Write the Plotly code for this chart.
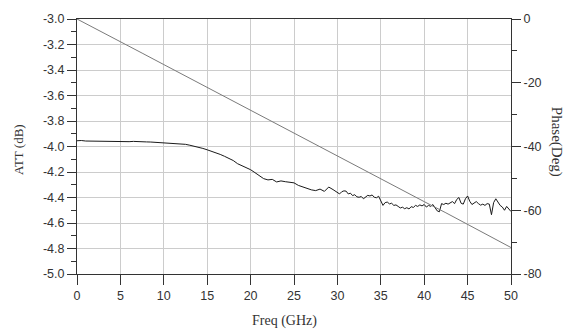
import plotly.graph_objects as go

# ---- data ----
att_freq_a = [0, 0.5, 1, 1.5, 2, 2.5, 3, 3.5, 4, 4.5, 5, 5.5, 6, 6.5, 7, 7.5, 8, 8.5, 9, 9.5,
              10, 10.5, 11, 11.5, 12, 12.5, 13, 13.5, 14, 14.5, 15, 15.5, 16, 16.5, 17, 17.5,
              18, 18.5, 19, 19.5, 20, 20.5, 21, 21.5, 22, 22.5, 23, 23.5, 24, 24.5, 25, 25.5,
              26, 26.5, 27, 27.5, 28, 28.5, 29, 29.5]
att_vals_a = [-3.955, -3.953, -3.957, -3.958, -3.956, -3.958, -3.959, -3.958, -3.960, -3.961,
              -3.960, -3.961, -3.962, -3.960, -3.963, -3.962, -3.964, -3.965, -3.967, -3.968,
              -3.970, -3.971, -3.972, -3.974, -3.978, -3.983, -3.990, -3.997, -4.006, -4.015,
              -4.026, -4.037, -4.048, -4.062, -4.077, -4.092, -4.110, -4.135, -4.150, -4.165,
              -4.182, -4.205, -4.232, -4.252, -4.262, -4.258, -4.278, -4.270, -4.276, -4.278,
              -4.285, -4.305, -4.318, -4.332, -4.340, -4.346, -4.334, -4.352, -4.318, -4.338]
att_freq_b = [30.00, 30.25, 30.50, 30.75, 31.00, 31.25, 31.50, 31.75, 32.00, 32.25, 32.50, 32.75,
              33.00, 33.25, 33.50, 33.75, 34.00, 34.25, 34.50, 34.75, 35.00, 35.25, 35.50, 35.75,
              36.00, 36.25, 36.50, 36.75, 37.00, 37.25, 37.50, 37.75, 38.00, 38.25, 38.50, 38.75,
              39.00, 39.25, 39.50, 39.75, 40.00, 40.25, 40.50, 40.75, 41.00, 41.25, 41.50, 41.75,
              42.00, 42.25, 42.50, 42.75, 43.00, 43.25, 43.50, 43.75, 44.00, 44.25, 44.50, 44.75,
              45.00, 45.25, 45.50, 45.75, 46.00, 46.25, 46.50, 46.75, 47.00, 47.25, 47.50, 47.75,
              48.00, 48.25, 48.50, 48.75, 49.00, 49.25, 49.50, 49.75, 50.00]
att_vals_b = [-4.360, -4.372, -4.355, -4.348, -4.350, -4.372, -4.366, -4.385, -4.378, -4.395,
              -4.398, -4.392, -4.410, -4.396, -4.383, -4.388, -4.380, -4.398, -4.402, -4.390,
              -4.420, -4.462, -4.440, -4.436, -4.450, -4.445, -4.462, -4.458, -4.470, -4.482,
              -4.476, -4.488, -4.480, -4.490, -4.472, -4.478, -4.462, -4.470, -4.458, -4.466,
              -4.455, -4.475, -4.462, -4.470, -4.455, -4.480, -4.505, -4.512, -4.448, -4.455,
              -4.445, -4.452, -4.440, -4.432, -4.448, -4.415, -4.400, -4.445, -4.452, -4.410,
              -4.388, -4.430, -4.455, -4.440, -4.432, -4.448, -4.460, -4.452, -4.462, -4.448,
              -4.452, -4.535, -4.440, -4.410, -4.442, -4.462, -4.475, -4.500, -4.470, -4.495,
              -4.510]
att_freq = att_freq_a + att_freq_b
att_vals = att_vals_a + att_vals_b

phase_freq = [0, 2.5, 5, 7.5, 10, 12.5, 15, 17.5, 20, 22.5, 25, 27.5, 30, 32.5, 35, 37.5,
              40, 42.5, 45, 47.5, 50]
phase_vals = [0.0, -3.5, -7.1, -10.7, -14.3, -17.9, -21.5, -25.0, -28.6, -32.2, -35.8, -39.4,
              -43.0, -46.5, -50.1, -53.7, -57.3, -60.8, -64.4, -68.2, -71.7]

x_ticks = [0, 5, 10, 15, 20, 25, 30, 35, 40, 45, 50]
att_ticks = [-5.0, -4.8, -4.6, -4.4, -4.2, -4.0, -3.8, -3.6, -3.4, -3.2, -3.0]
att_labels = ["-5.0", "-4.8", "-4.6", "-4.4", "-4.2", "-4.0", "-3.8", "-3.6", "-3.4", "-3.2", "-3.0"]
phase_ticks = [-80, -60, -40, -20, 0]
phase_labels = ["-80", "-60", "-40", "-20", "0"]

AX = "#333333"
GRID = "#cccccc"
TICKFONT = dict(family="Liberation Sans, Arial, sans-serif", size=12.5, color="#333333")
TITLEFONT = "Liberation Serif, Times New Roman, serif"

fig = go.Figure()
fig.add_trace(go.Scatter(x=phase_freq, y=phase_vals, mode="lines", yaxis="y2",
                         line=dict(color="#7a7a7a", width=1), showlegend=False))
fig.add_trace(go.Scatter(x=att_freq, y=att_vals, mode="lines",
                         line=dict(color="#1a1a1a", width=1), showlegend=False))

fig.update_layout(
    width=584, height=332,
    margin=dict(l=77, r=73, t=12, b=58),
    paper_bgcolor="white", plot_bgcolor="white",
    xaxis=dict(range=[0, 50], tickvals=x_ticks, ticks="outside", ticklen=10, tickcolor=AX,
               showline=True, linecolor=AX, linewidth=1, mirror=True,
               showgrid=True, gridcolor=GRID, gridwidth=1, zeroline=False,
               tickfont=TICKFONT),
    yaxis=dict(range=[-5, -3], tickvals=att_ticks, ticktext=att_labels, ticks="outside",
               ticklen=9, tickcolor=AX, showline=True, linecolor=AX, linewidth=1,
               showgrid=True, gridcolor=GRID, zeroline=False, tickfont=TICKFONT,
               minor=dict(dtick=0.1, tick0=-5, ticks="outside", ticklen=5, tickcolor=AX,
                          showgrid=False)),
    yaxis2=dict(range=[-80, 0], tickvals=phase_ticks, ticktext=phase_labels,
                overlaying="y", side="right", ticks="outside",
                ticklen=9, tickcolor=AX, showline=True, linecolor=AX, linewidth=1,
                showgrid=False, zeroline=False, tickfont=TICKFONT,
                minor=dict(dtick=10, tick0=0, ticks="outside", ticklen=5, tickcolor=AX,
                           showgrid=False)),
    annotations=[
        dict(text="Freq (GHz)", xref="paper", yref="paper", x=0.477, y=-0.183,
             xanchor="center", yanchor="middle", showarrow=False,
             font=dict(family=TITLEFONT, size=14, color="#333333")),
        dict(text="ATT (dB)", xref="paper", yref="paper", x=-0.136, y=0.49,
             xanchor="center", yanchor="middle", showarrow=False, textangle=-90,
             font=dict(family=TITLEFONT, size=13, color="#333333")),
        dict(text="Phase(Deg)", xref="paper", yref="paper", x=1.105, y=0.52,
             xanchor="center", yanchor="middle", showarrow=False, textangle=90,
             font=dict(family=TITLEFONT, size=15, color="#333333")),
    ],
)

fig.write_html("out.html")
